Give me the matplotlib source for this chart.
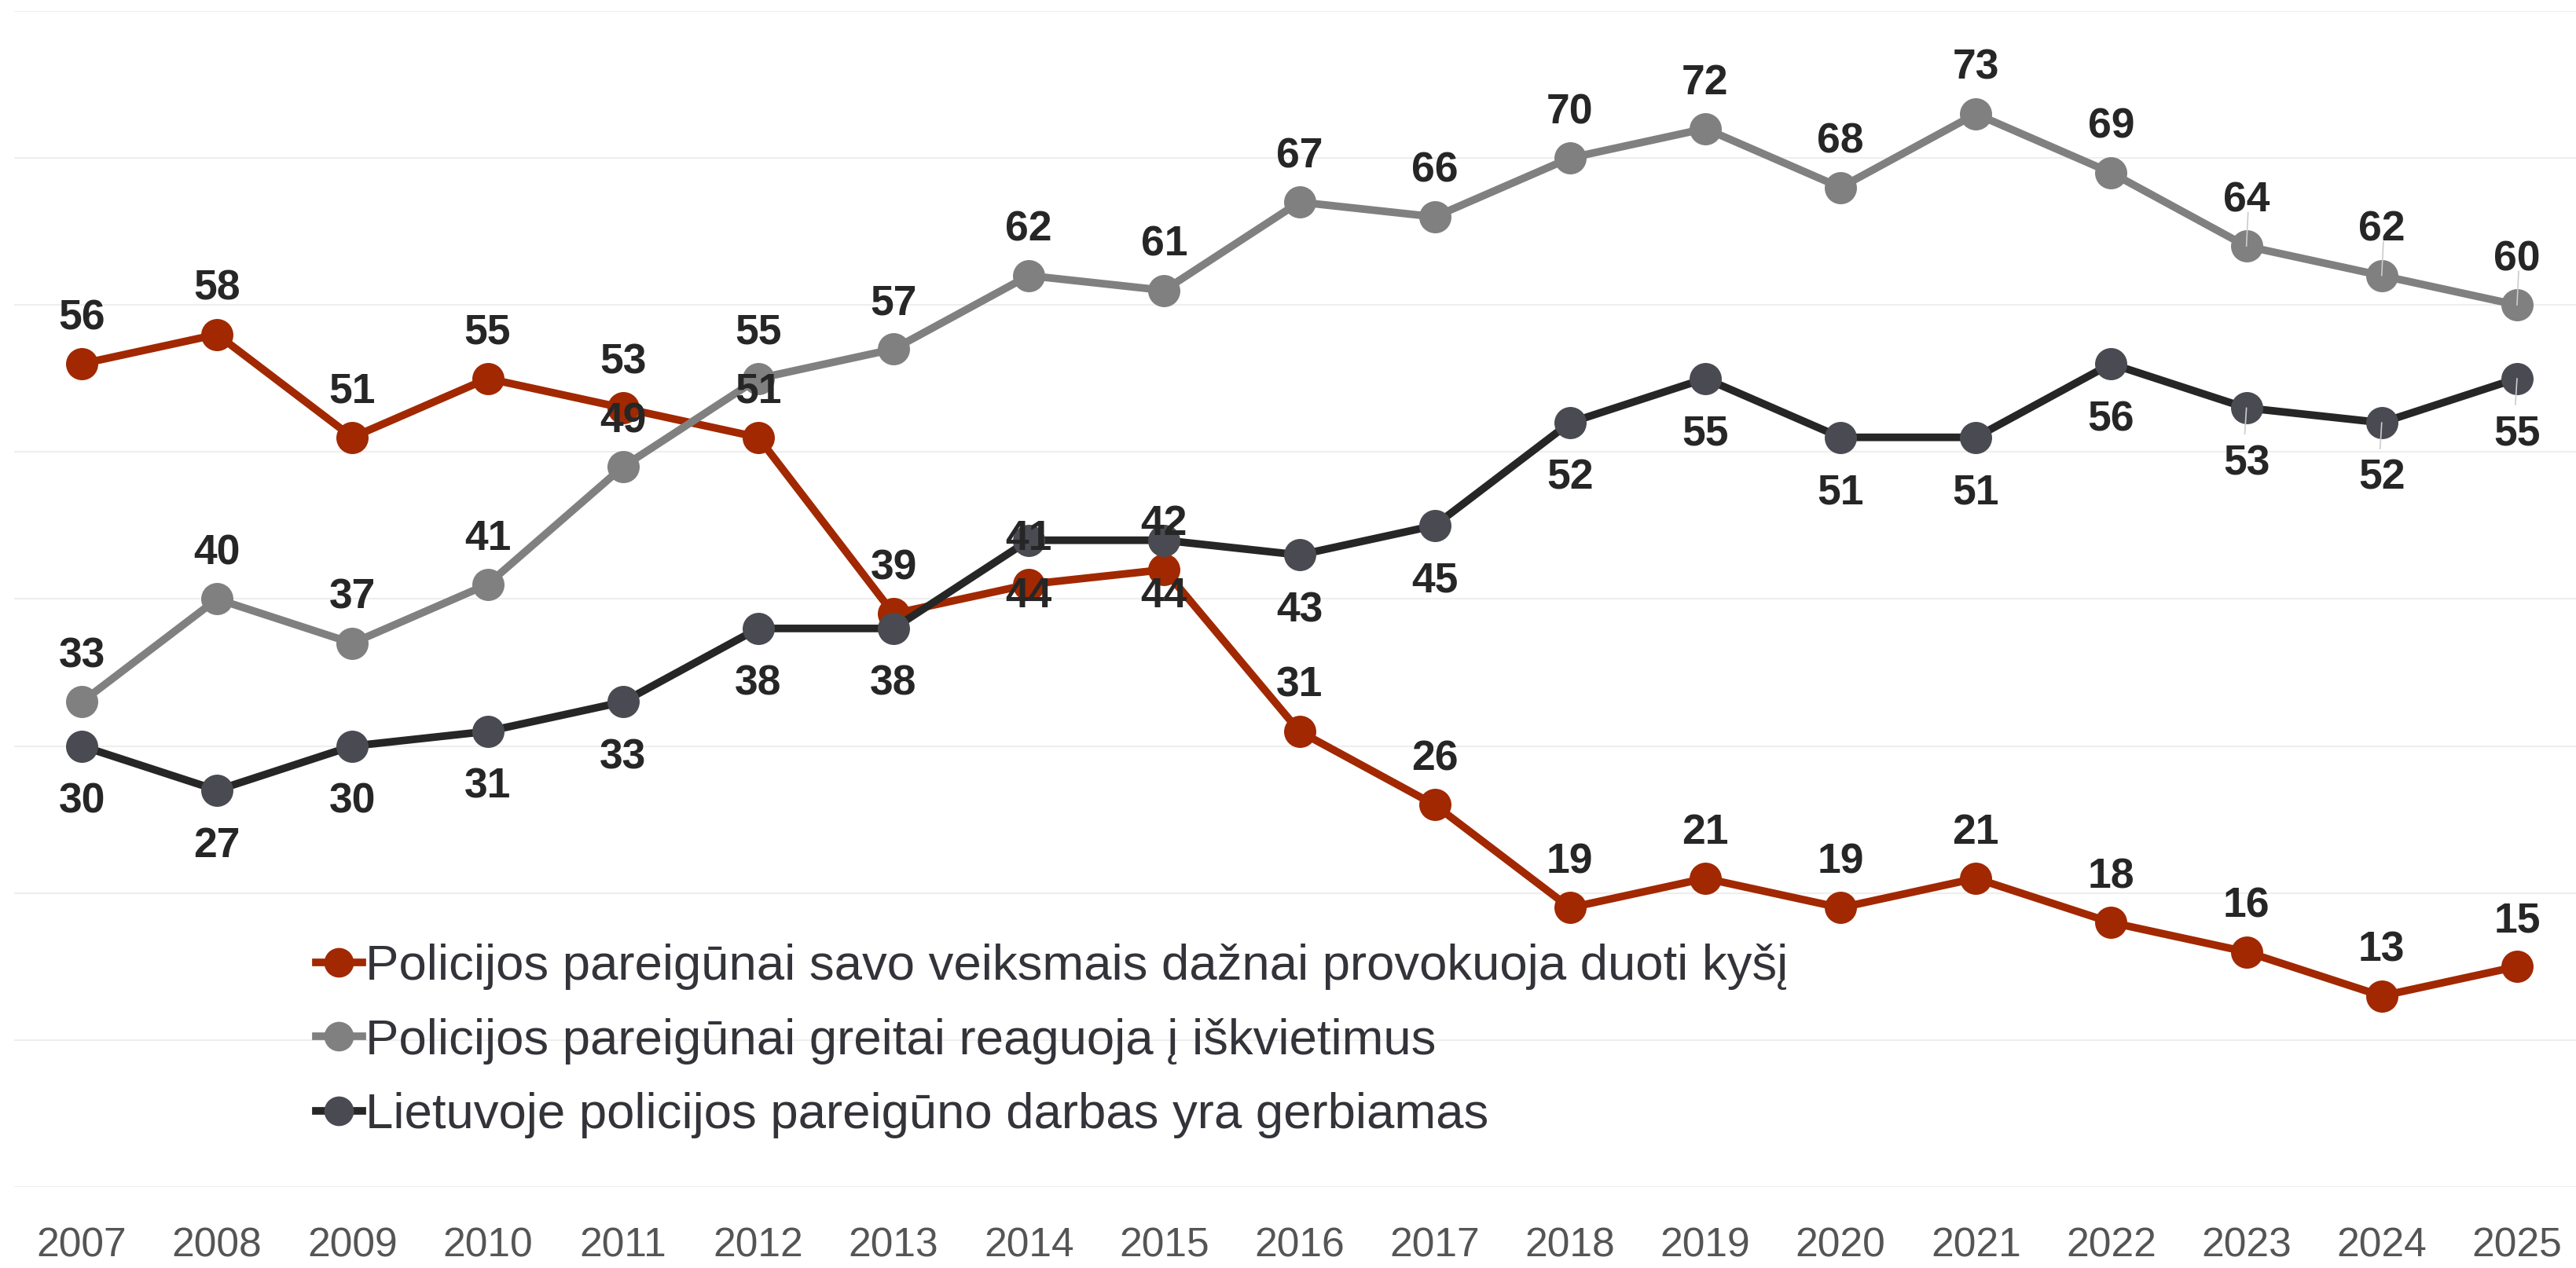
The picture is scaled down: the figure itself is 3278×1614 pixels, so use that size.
import matplotlib
matplotlib.use("Agg")
import matplotlib.pyplot as plt

plt.rcParams['font.family'] = ['Liberation Sans', 'DejaVu Sans']

years = [2007, 2008, 2009, 2010, 2011, 2012, 2013, 2014, 2015, 2016,
         2017, 2018, 2019, 2020, 2021, 2022, 2023, 2024, 2025]
labels = [
    "Policijos pareigūnai savo veiksmais dažnai provokuoja duoti kyšį",
    "Policijos pareigūnai greitai reaguoja į iškvietimus",
    "Lietuvoje policijos pareigūno darbas yra gerbiamas",
]
bribe = [56, 58, 51, 55, 53, 51, 39, 41, 42, 31, 26, 19, 21, 19, 21, 18, 16, 13, 15]
react = [33, 40, 37, 41, 49, 55, 57, 62, 61, 67, 66, 70, 72, 68, 73, 69, 64, 62, 60]
respect = [30, 27, 30, 31, 33, 38, 38, 44, 44, 43, 45, 52, 55, 51, 51, 56, 53, 52, 55]

W, H = 3278, 1614
fig = plt.figure(figsize=(W / 100, H / 100), dpi=100)
ax = fig.add_axes([18 / W, (H - 1511) / H, (W - 18) / W, (1511 - 14) / H])

series = [
    (bribe, labels[0], '#A12800', '#A12800', 'above', False),
    (react, labels[1], '#808080', '#808080', 'above', True),
    (respect, labels[2], '#262626', '#4A4B52', 'below', True),
]

handles = []
for i, (vals, lab, lc, mc, pos, lead) in enumerate(series):
    ln, = ax.plot(years, vals, color=lc, lw=7, marker='o', markersize=29.5,
                  markerfacecolor=mc, markeredgecolor=mc, markeredgewidth=0,
                  solid_joinstyle='round', zorder=3 + i, label=lab, clip_on=False)
    handles.append(ln)

leader_years = [2023, 2024, 2025]
for vals, lab, lc, mc, pos, lead in series:
    for x, v in zip(years, vals):
        off = 31.7 if pos == 'above' else -61.2
        ax.annotate(str(v), (x, v), xytext=(0, off), textcoords='offset points',
                    ha='center', va='baseline', fontsize=38.5, fontweight='bold',
                    color='#262626', zorder=10, annotation_clip=False)
        if lead and x in leader_years:
            loff = 31 if pos == 'above' else -24
            ax.annotate('', xy=(x, v), xytext=(1.5 if pos == 'above' else -1.5, loff),
                        textcoords='offset points',
                        arrowprops=dict(arrowstyle='-', color='#cccccc', lw=1.2,
                                        shrinkA=0, shrinkB=0), zorder=9)

ax.set_xlim(2006.5, 2025.436)
ax.set_ylim(0, 80)
ax.set_yticks(range(0, 81, 10))
ax.set_yticklabels([])
ax.set_xticks(years)
ax.set_xticklabels([str(y) for y in years], fontsize=37.2, color='#555555')
ax.tick_params(axis='x', length=0, pad=36)
ax.tick_params(axis='y', length=0)
ax.grid(axis='y', color='#eeeeee', lw=1.5, zorder=0)
ax.grid(axis='x', visible=False)
for s in ax.spines.values():
    s.set_visible(False)

leg = ax.legend(handles=handles, loc='upper left',
                bbox_to_anchor=(401.5 / W, (H - 1201) / H),
                bbox_transform=fig.transFigure, frameon=False,
                fontsize=45.7, handlelength=0.94, handletextpad=0.06,
                labelspacing=0.56, borderpad=0, borderaxespad=0, markerscale=0.92)
for t in leg.get_texts():
    t.set_color('#33333a')

fig.savefig('out.png', dpi=100, facecolor='white')
